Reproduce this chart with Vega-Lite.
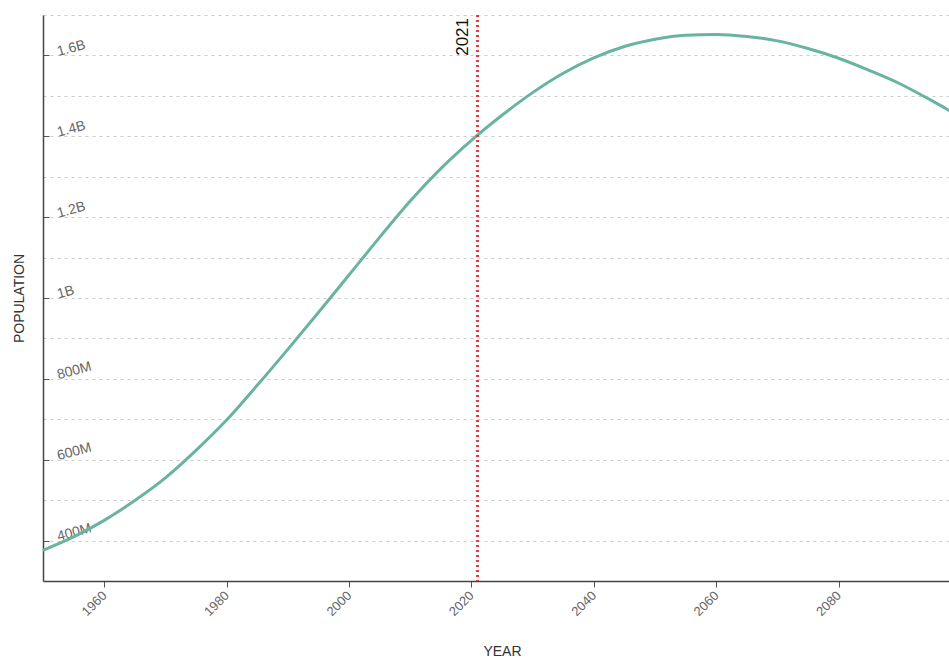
{
  "$schema": "https://vega.github.io/schema/vega-lite/v6.json",
  "width": 918,
  "height": 566,
  "autosize": {"type": "none"},
  "padding": {"left": 43, "top": 15, "right": 0, "bottom": 86},
  "config": {
    "view": {"stroke": null},
    "font": "Liberation Sans"
  },
  "layer": [
    {
      "data": {"values": [
        {"year": 1950, "population": 376000000},
        {"year": 1955, "population": 409000000},
        {"year": 1960, "population": 450000000},
        {"year": 1965, "population": 499000000},
        {"year": 1970, "population": 555000000},
        {"year": 1975, "population": 623000000},
        {"year": 1980, "population": 698000000},
        {"year": 1985, "population": 784000000},
        {"year": 1990, "population": 873000000},
        {"year": 1995, "population": 964000000},
        {"year": 2000, "population": 1057000000},
        {"year": 2005, "population": 1150000000},
        {"year": 2010, "population": 1240000000},
        {"year": 2015, "population": 1320000000},
        {"year": 2020, "population": 1390000000},
        {"year": 2025, "population": 1452000000},
        {"year": 2030, "population": 1508000000},
        {"year": 2035, "population": 1556000000},
        {"year": 2040, "population": 1594000000},
        {"year": 2045, "population": 1622000000},
        {"year": 2050, "population": 1640000000},
        {"year": 2055, "population": 1650000000},
        {"year": 2060, "population": 1652000000},
        {"year": 2065, "population": 1647000000},
        {"year": 2070, "population": 1636000000},
        {"year": 2075, "population": 1617000000},
        {"year": 2080, "population": 1593000000},
        {"year": 2085, "population": 1563000000},
        {"year": 2090, "population": 1530000000},
        {"year": 2095, "population": 1490000000},
        {"year": 2100, "population": 1447000000}
      ]},
      "mark": {"type": "line", "color": "#69b3a2", "strokeWidth": 3, "interpolate": "monotone"},
      "encoding": {
        "x": {
          "field": "year", "type": "quantitative",
          "scale": {"domain": [1950, 2100], "nice": false, "zero": false},
          "axis": {
            "title": "YEAR",
            "values": [1960, 1980, 2000, 2020, 2040, 2060, 2080],
            "format": "d",
            "grid": false,
            "labelAngle": -45,
            "labelAlign": "right",
            "labelBaseline": "middle",
            "labelFontSize": 13,
            "labelColor": "#666",
            "labelPadding": 6,
            "tickSize": 6,
            "tickColor": "#555",
            "domainColor": "#444",
            "domainWidth": 1.5,
            "titleFontSize": 14,
            "titleFontWeight": "normal",
            "titleColor": "#333",
            "titlePadding": 26
          }
        },
        "y": {
          "field": "population", "type": "quantitative",
          "scale": {"domain": [300000000, 1700000000], "nice": false, "zero": false},
          "axis": {
            "title": "POPULATION",
            "values": [400000000, 500000000, 600000000, 700000000, 800000000, 900000000, 1000000000, 1100000000, 1200000000, 1300000000, 1400000000, 1500000000, 1600000000, 1700000000],
            "labelExpr": "datum.value % 200000000 == 0 ? replace(format(datum.value, '.2~s'), 'G', 'B') : ''",
            "grid": true,
            "gridDash": [3, 4],
            "gridColor": "#cccccc",
            "gridWidth": 1,
            "tickSize": -6,
            "tickColor": {"condition": {"test": "datum.value % 200000000 == 0", "value": "#555"}, "value": "transparent"},
            "labelAlign": "left",
            "labelBaseline": "alphabetic",
            "labelAngle": -15,
            "labelPadding": -9,
            "labelFontSize": 14,
            "labelColor": "#666",
            "domainColor": "#444",
            "domainWidth": 1.5,
            "titleFontSize": 14,
            "titleFontWeight": "normal",
            "titleColor": "#333",
            "titlePadding": 16
          }
        }
      }
    },
    {
      "data": {"values": [{"year": 2021, "label": "2021", "top": 1700000000}]},
      "layer": [
        {
          "mark": {"type": "rule", "color": "#dd3c44", "strokeWidth": 3, "strokeDash": [2, 3]},
          "encoding": {
            "x": {"field": "year", "type": "quantitative"}
          }
        },
        {
          "mark": {"type": "text", "angle": 270, "align": "right", "baseline": "bottom", "fontSize": 17, "color": "#111", "dx": -3, "dy": -6},
          "encoding": {
            "x": {"field": "year", "type": "quantitative"},
            "y": {"field": "top", "type": "quantitative"},
            "text": {"field": "label"}
          }
        }
      ]
    }
  ]
}
